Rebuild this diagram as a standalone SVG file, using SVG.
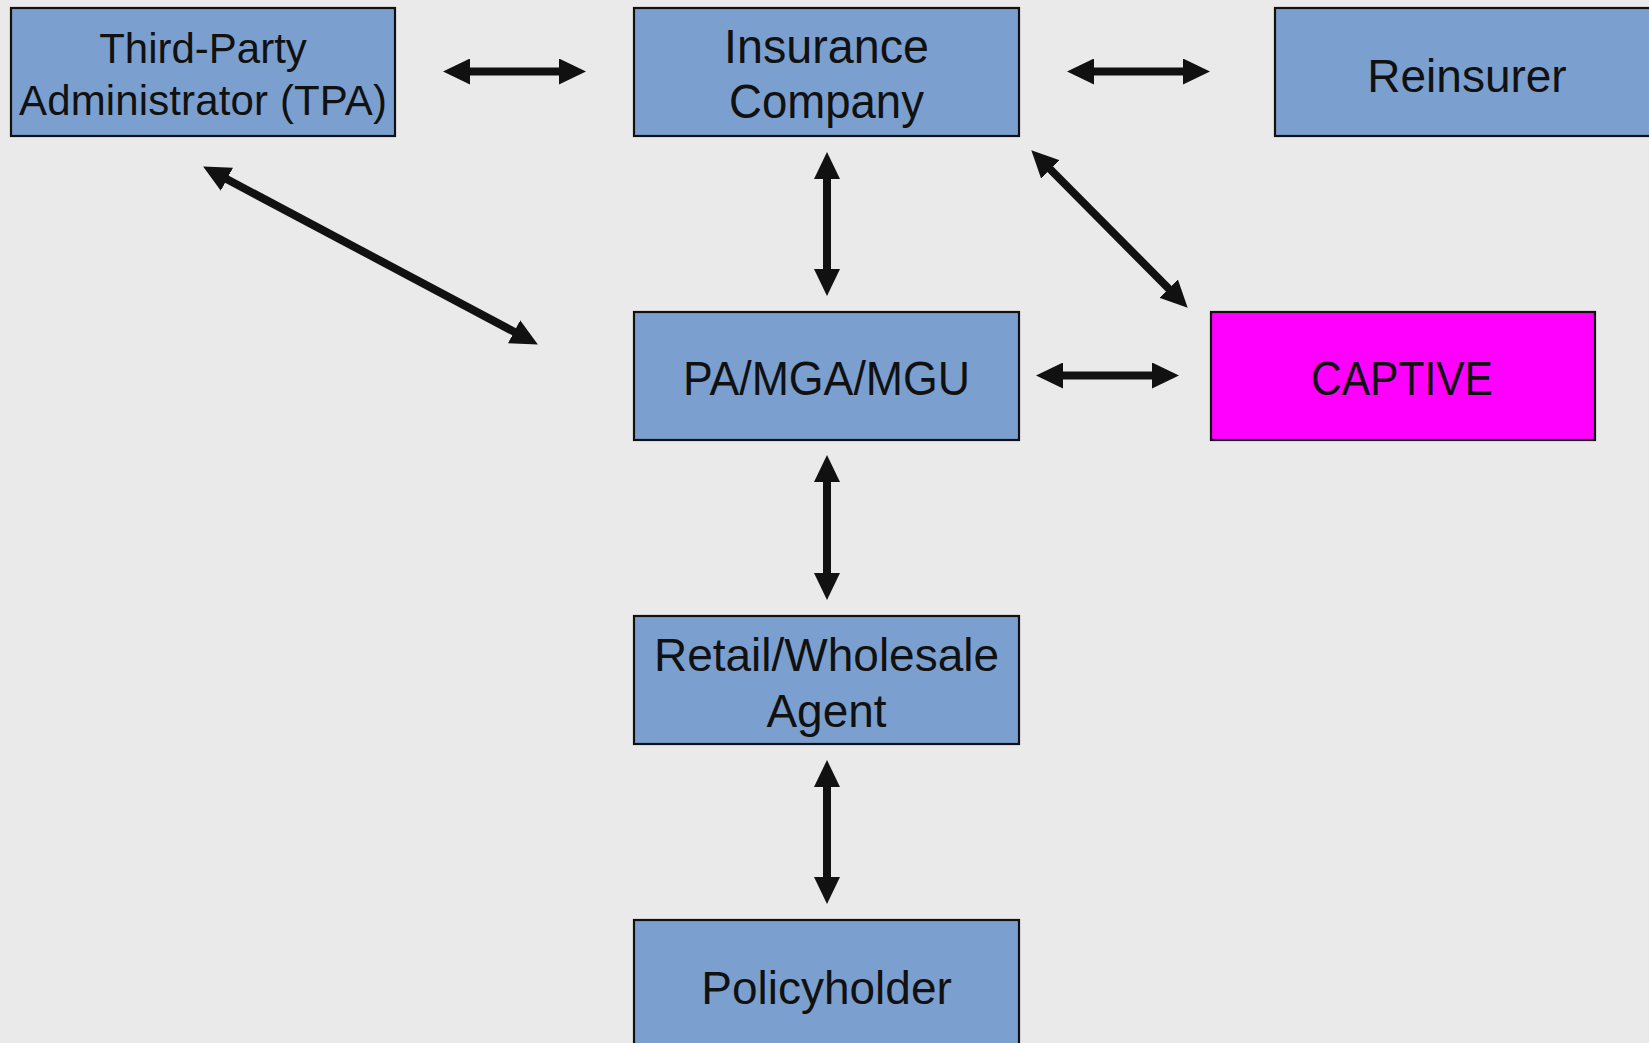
<svg xmlns="http://www.w3.org/2000/svg" width="1649" height="1043" viewBox="0 0 1649 1043">
<style>
.box{fill:#7BA0D0;stroke:#111;stroke-width:2.2}
.cap{fill:#FF00FF;stroke:#111;stroke-width:2.2}
.t{font-family:"Liberation Sans",Arial,sans-serif;fill:#111;text-anchor:middle}
.c{fill:none;stroke:#111;stroke-width:8;marker-start:url(#ah);marker-end:url(#ah)}
</style>
<defs>
<marker id="ah" markerUnits="userSpaceOnUse" markerWidth="27" markerHeight="26" viewBox="0 0 27 26" refX="9" refY="13" orient="auto-start-reverse">
<path d="M0,0 L27,13 L0,26 Z" fill="#111"/>
</marker>
</defs>
<rect width="1649" height="1043" fill="#EAEAEA"/>
<g id="connectors">
<path class="c" d="M461,71.5 L568,71.5"/>
<path class="c" d="M1085,71.5 L1192,71.5"/>
<path class="c" d="M827,170 L827,278"/>
<path class="c" d="M1044,163 L1175,295"/>
<path class="c" d="M219,175 L522,336"/>
<path class="c" d="M1054,375.5 L1161,375.5"/>
<path class="c" d="M827,473 L827,582"/>
<path class="c" d="M827,778 L827,886"/>
</g>
<g id="tpa">
<rect class="box" x="11" y="8" width="384" height="128"/>
<text class="t" x="203" y="63" font-size="42">Third-Party</text>
<text class="t" x="203" y="115" font-size="42" textLength="368" lengthAdjust="spacing">Administrator (TPA)</text>
</g>
<g id="insurance">
<rect class="box" x="634" y="8" width="385" height="128"/>
<text class="t" x="826.5" y="63" font-size="49" textLength="205" lengthAdjust="spacingAndGlyphs">Insurance</text>
<text class="t" x="826.5" y="118" font-size="49" textLength="195" lengthAdjust="spacingAndGlyphs">Company</text>
</g>
<g id="reinsurer">
<rect class="box" x="1275" y="8" width="380" height="128"/>
<text class="t" x="1467" y="92" font-size="46">Reinsurer</text>
</g>
<g id="pamga">
<rect class="box" x="634" y="312" width="385" height="128"/>
<text class="t" x="826.5" y="395" font-size="48" textLength="287" lengthAdjust="spacingAndGlyphs">PA/MGA/MGU</text>
</g>
<g id="captive">
<rect class="cap" x="1211" y="312" width="384" height="128"/>
<text class="t" x="1402" y="395" font-size="48" textLength="182" lengthAdjust="spacingAndGlyphs">CAPTIVE</text>
</g>
<g id="retail">
<rect class="box" x="634" y="616" width="385" height="128"/>
<text class="t" x="826.5" y="671" font-size="46">Retail/Wholesale</text>
<text class="t" x="826.5" y="727" font-size="46">Agent</text>
</g>
<g id="policyholder">
<rect class="box" x="634" y="920" width="385" height="140"/>
<text class="t" x="826.5" y="1004" font-size="46">Policyholder</text>
</g>
</svg>
